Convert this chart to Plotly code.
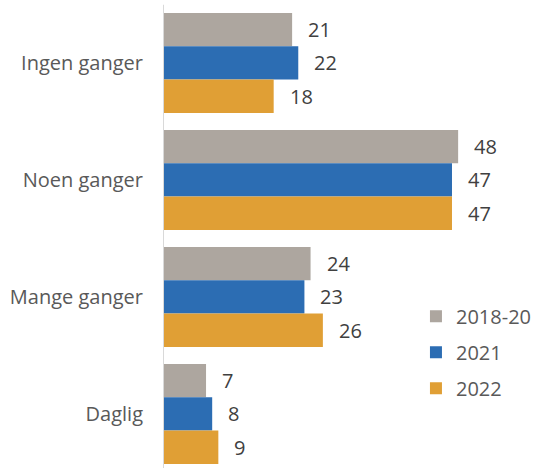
import plotly.graph_objects as go

categories = ["Ingen ganger", "Noen ganger", "Mange ganger", "Daglig"]
series_names = ["2018-20", "2021", "2022"]
values_2018_20 = [21, 48, 24, 7]
values_2021 = [22, 47, 23, 8]
values_2022 = [18, 47, 26, 9]

series_values = [values_2018_20, values_2021, values_2022]
colors = ["#ADA69F", "#2C6DB3", "#E09F35"]

FONT = "Open Sans, Roboto, sans-serif"
bar_w = 0.285  # height of one bar in category units
fig = go.Figure()
label_font = dict(family=FONT, size=20, color="#404040")

for j, (name, vals, col) in enumerate(zip(series_names, series_values, colors)):
    ys = [i + (j - 1) * bar_w for i in range(len(categories))]
    fig.add_trace(go.Bar(
        x=vals, y=ys, orientation="h", width=bar_w, name=name,
        marker=dict(color=col, line=dict(width=0)),
        legendgroup=name,
    ))
    for v, y in zip(vals, ys):
        fig.add_annotation(x=v, y=y, text=str(v), showarrow=False,
                           xanchor="left", yanchor="middle", xshift=14,
                           font=label_font)

fig.add_shape(type="line", xref="x", yref="paper", x0=0, x1=0, y0=0, y1=0.99,
              line=dict(color="#D9D9D9", width=2))

fig.update_layout(
    width=535, height=468,
    margin=dict(l=163, r=0, t=0, b=0, autoexpand=False),
    barmode="overlay",
    plot_bgcolor="white", paper_bgcolor="white",
    showlegend=True,
    legend=dict(x=0.68, y=0.366, xanchor="left", yanchor="top",
                traceorder="grouped", tracegroupgap=7,
                font=dict(family=FONT, size=20, color="#595959"),
                bgcolor="rgba(0,0,0,0)"),
    xaxis=dict(range=[0, 60.5], visible=False),
    yaxis=dict(range=[3.462, -0.538], tickmode="array",
               tickvals=list(range(len(categories))), ticktext=categories,
               showgrid=False, zeroline=False, showline=False,
               ticks="", ticklabelstandoff=19,
               tickfont=dict(family=FONT, size=20, color="#595959")),
)

fig.write_html("out.html")
